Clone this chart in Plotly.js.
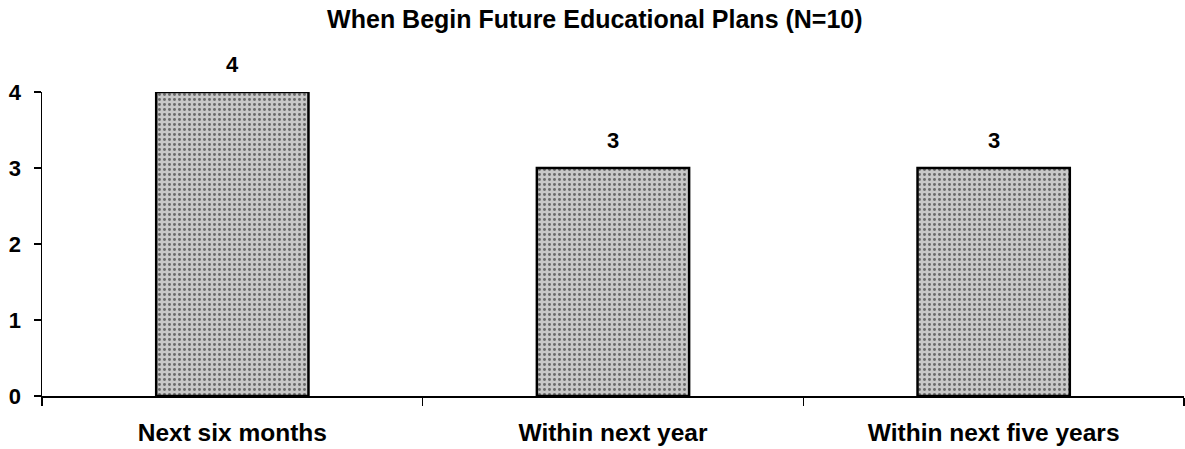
<!DOCTYPE html>
<html>
<head>
<meta charset="utf-8">
<script src="https://cdn.plot.ly/plotly-3.0.1.min.js"></script>
<style>html,body{margin:0;padding:0;background:#fff;}#chart{width:1185px;height:449px;}</style>
</head>
<body>
<div id="chart"></div>
<script>
const categories = ["Next six months", "Within next year", "Within next five years"];
const counts = [4, 3, 3];
const yTicks = [0, 1, 2, 3, 4];
const chartTitle = "When Begin Future Educational Plans (N=10)";

const fontFam = "Liberation Sans, Arial, sans-serif";

const trace = {
  type: "bar",
  x: categories,
  y: counts,
  marker: {
    color: "#bfbfbf",
    line: {color: "#000", width: 2.5},
    pattern: {shape: ".", fgcolor: "#6a6a6a", bgcolor: "#c8c8c8", size: 5, solidity: 0.28}
  },
  hoverinfo: "skip"
};

const annotations = categories.map((c, i) => ({
  x: c, y: counts[i], xref: "x", yref: "y",
  text: "<b>" + String(counts[i]) + "</b>", showarrow: false,
  yanchor: "bottom", yshift: 13,
  font: {family: fontFam, size: 22, color: "#000"}
}));

const layout = {
  width: 1185, height: 449,
  margin: {l: 42, r: 1, t: 92, b: 53},
  paper_bgcolor: "#fff", plot_bgcolor: "#fff",
  bargap: 0.6,
  showlegend: false,
  title: {text: "<b>" + chartTitle + "</b>", x: 0.502, xanchor: "center", y: 0.958, yanchor: "middle",
          font: {family: fontFam, size: 25, color: "#000"}},
  xaxis: {
    type: "category",
    showline: true, linecolor: "#000", linewidth: 1.5,
    ticks: "outside", tickson: "boundaries", ticklen: 8, tickcolor: "#000", tickwidth: 1.5,
    ticklabelstandoff: 14,
    tickfont: {family: fontFam, size: 24.5, color: "#000", weight: "bold"},
    showgrid: false, zeroline: false,
    fixedrange: true
  },
  yaxis: {
    range: [0, 4],
    tickvals: yTicks,
    ticktext: yTicks.map(String),
    showline: true, linecolor: "#000", linewidth: 1.5,
    ticks: "outside", ticklen: 7, tickcolor: "#000", tickwidth: 1.5,
    ticklabelstandoff: 8,
    tickfont: {family: fontFam, size: 22, color: "#000", weight: "bold"},
    showgrid: false, zeroline: false,
    fixedrange: true
  },
  annotations: annotations
};

Plotly.newPlot("chart", [trace], layout, {displayModeBar: false, staticPlot: true});
</script>
</body>
</html>
